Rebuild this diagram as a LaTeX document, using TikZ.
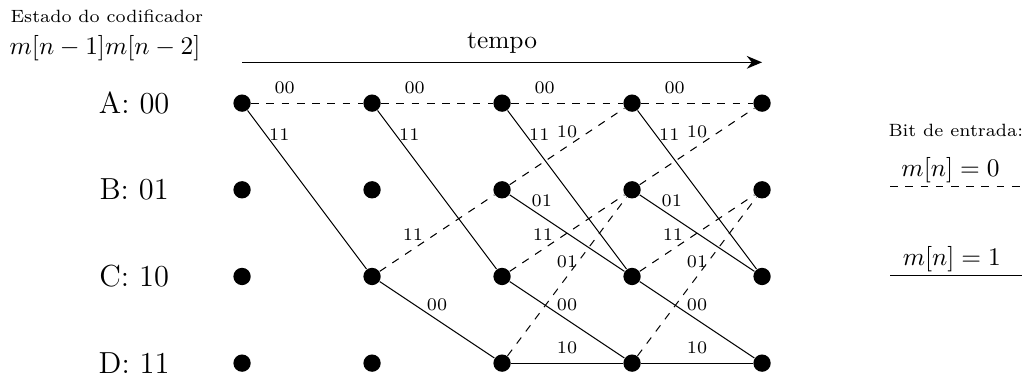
\documentclass[tikz,border=0pt]{standalone}
\usetikzlibrary{arrows.meta}
\begin{document}
\begin{tikzpicture}[x=1.8cm,y=-1.2cm,
		dot/.style={circle,fill,inner sep=0pt,minimum size=2.4mm},
		lbl/.style={font=\scriptsize},
		state/.style={font=\large}]
	\useasboundingbox (-1.862,-1.19) rectangle (6.038,3.172);
	% cabecalho
	\node[lbl] (estado) at (-1.04,-1.0) {Estado do codificador};
	\node (mem) at (-1.054,-0.632) {$m[n-1]m[n-2]$};
	\coordinate (t0) at (0,-0.471);
	\coordinate (t1) at (4,-0.471);
	\draw[semithick,-{Stealth[length=6pt,width=5pt]}] (t0) -- node[above] {tempo} (t1);
	% estados
	\foreach \r/\s/\b in {0/A/00,1/B/01,2/C/10,3/D/11}{
		\node[state] (l\s) at (-0.83,\r) {\s: \b};
		\foreach \c in {0,...,4}
			\node[dot] (\s\c) at (\c,\r) {};
	}
	% transicoes
	\foreach \c/\n in {0/1,1/2,2/3,3/4}{
		\draw[dashed] (A\c) -- node[lbl,pos=.3,above] {00} (A\n);
		\draw (A\c) -- node[lbl,pos=.17,right,xshift=-3pt,yshift=1pt] {11} (C\n);
	}
	\foreach \c/\n in {1/2,2/3,3/4}{
		\draw[dashed] (C\c) -- node[lbl,pos=.29,above] {11} (B\n);
		\draw (C\c) -- node[lbl,pos=.5,above] {00} (D\n);
	}
	\foreach \c/\n in {2/3,3/4}{
		\draw[dashed] (B\c) -- node[lbl,pos=.5,above] {10} (A\n);
		\draw (B\c) -- node[lbl,pos=.28,above] {01} (C\n);
		\draw[dashed] (D\c) -- node[lbl,pos=.5,above] {01} (B\n);
		\draw (D\c) -- node[lbl,pos=.5,above] {10} (D\n);
	}
	% legenda
	\node[lbl] (bit) at (5.49,0.31) {Bit de entrada:};
	\node (m0) at (5.45,0.77) {$m[n]=0$};
	\coordinate (z0) at (4.985,0.966);
	\coordinate (z1) at (6.0,0.966);
	\draw[dashed] (z0) -- (z1);
	\node (m1) at (5.46,1.80) {$m[n]=1$};
	\coordinate (u0) at (4.985,1.99);
	\coordinate (u1) at (6.0,1.99);
	\draw (u0) -- (u1);
\end{tikzpicture}
\end{document}
